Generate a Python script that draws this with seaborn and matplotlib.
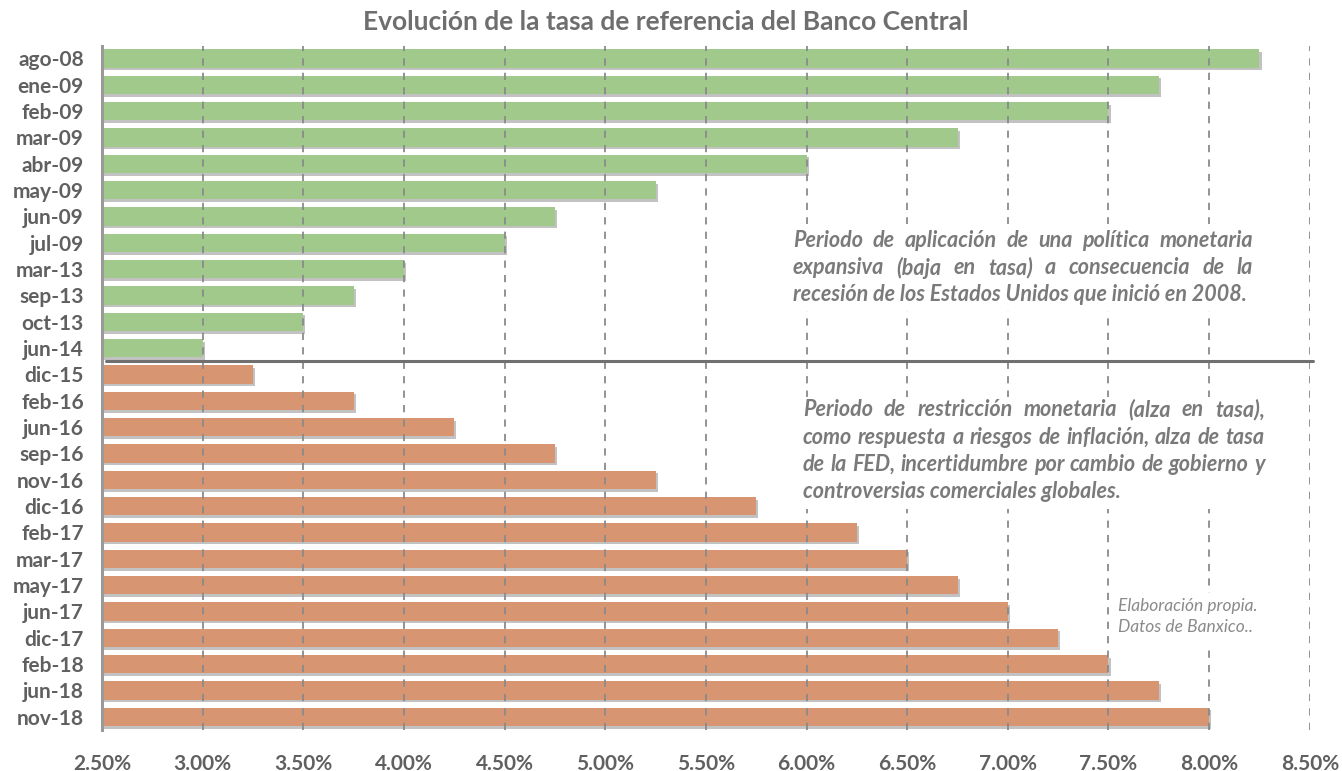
import pandas as pd
import numpy as np
import seaborn as sns
import matplotlib.pyplot as plt
import matplotlib.patheffects as pe
from matplotlib.patches import Rectangle
from matplotlib.ticker import FuncFormatter

fechas = ['ago-08', 'ene-09', 'feb-09', 'mar-09', 'abr-09', 'may-09', 'jun-09',
          'jul-09', 'mar-13', 'sep-13', 'oct-13', 'jun-14',
          'dic-15', 'feb-16', 'jun-16', 'sep-16', 'nov-16', 'dic-16', 'feb-17',
          'mar-17', 'may-17', 'jun-17', 'dic-17', 'feb-18', 'jun-18', 'nov-18']
tasas = [8.25, 7.75, 7.50, 6.75, 6.00, 5.25, 4.75, 4.50, 4.00, 3.75, 3.50, 3.00,
         3.25, 3.75, 4.25, 4.75, 5.25, 5.75, 6.25, 6.50, 6.75, 7.00, 7.25, 7.50, 7.75, 8.00]
periodos = ['expansiva'] * 12 + ['restriccion'] * 14

nota_expansiva = ['Periodo de aplicación de una política monetaria',
                  'expansiva (baja en tasa) a consecuencia de la',
                  'recesión de los Estados Unidos que inició en 2008.']
nota_restriccion = ['Periodo de restricción monetaria (alza en tasa),',
                    'como respuesta a riesgos de inflación, alza de tasa',
                    'de la FED, incertidumbre por cambio de gobierno y',
                    'controversias comerciales globales.']
fuente = 'Elaboración propia.\nDatos de Banxico..'

df = pd.DataFrame({'fecha': fechas, 'tasa': tasas, 'periodo': periodos})

sns.set_style('white')
plt.rcParams['font.family'] = ['Lato', 'DejaVu Sans']

gris = '#7a7a7a'
fig = plt.figure(figsize=(13.42, 7.71), dpi=100)
ax = fig.add_axes([0.076, 0.0532, 0.9, 0.887])

sns.barplot(data=df, x='tasa', y='fecha', hue='periodo', orient='h', dodge=False,
            palette={'expansiva': '#a2c98c', 'restriccion': '#d89572'}, saturation=1,
            width=0.7, linewidth=0, legend=False, ax=ax)

# sombra suave de las barras
for p in ax.patches:
    p.set_path_effects([pe.SimplePatchShadow(offset=(1.5, -2), shadow_rgbFace='#505050', alpha=0.35),
                        pe.Normal()])

ax.set_xlim(2.5, 8.5)
ax.set_ylim(25.5, -0.47)
ax.set_xticks(np.arange(2.5, 8.51, 0.5))
ax.xaxis.set_major_formatter(FuncFormatter(lambda v, pos: f'{v:.2f}%'))

for xv in np.arange(3.0, 8.51, 0.5):
    ax.axvline(xv, color='#8a8a8a', lw=1.3, ls=(0, (4, 4)), zorder=3)

ax.axhline(11.5, xmin=0.003, xmax=1.003, color='#707070', lw=2.2, zorder=4, clip_on=False)

for s in ['top', 'right', 'bottom']:
    ax.spines[s].set_visible(False)
ax.spines['left'].set_color('#9a9a9a')
ax.spines['left'].set_linewidth(2.2)

ax.tick_params(axis='y', length=0, labelsize=15, labelcolor='#606060', pad=13)
ax.tick_params(axis='x', length=0, labelsize=15, labelcolor='#606060', pad=17)
for lab in ax.get_xticklabels() + ax.get_yticklabels():
    lab.set_fontweight('bold')
ax.set_xlabel('')
ax.set_ylabel('')

fig.text(0.496, 0.971, 'Evolución de la tasa de referencia del Banco Central', ha='center',
         va='center', fontsize=19, fontweight='bold', color='#6e6e6e')

renderer = fig.canvas.get_renderer()
estilo = dict(fontsize=15.5, fontweight='bold', fontstyle='italic', color=gris, zorder=6)


def texto_justificado(lineas, x0, x1, y0, paso):
    px0 = ax.transData.transform((x0, 0))[0]
    px1 = ax.transData.transform((x1, 0))[0]
    inv = ax.transData.inverted()
    for i, linea in enumerate(lineas):
        y = y0 + i * paso
        if i == len(lineas) - 1:
            ax.text(x0, y, linea, ha='left', va='center', **estilo)
            continue
        palabras = linea.split()
        anchos = []
        for pal in palabras:
            t = ax.text(0, 0, pal, **estilo)
            anchos.append(t.get_window_extent(renderer).width)
            t.remove()
        hueco = (px1 - px0 - sum(anchos)) / (len(palabras) - 1)
        px = px0
        for pal, w in zip(palabras, anchos):
            ax.text(inv.transform((px, 0))[0], y, pal, ha='left', va='center', **estilo)
            px += w + hueco


# fondos blancos que tapan la cuadricula detras de las notas
ax.add_patch(Rectangle((5.88, 6.3), 2.42, 3.3, facecolor='white', edgecolor='none', zorder=3.5))
ax.add_patch(Rectangle((5.93, 12.85), 2.42, 4.25, facecolor='white', edgecolor='none', zorder=3.5))
ax.add_patch(Rectangle((7.51, 20.3), 0.77, 2.15, facecolor='white', edgecolor='none', zorder=3.5))

texto_justificado(nota_expansiva, 5.932, 8.217, 6.92, 1.03)
texto_justificado(nota_restriccion, 5.982, 8.277, 13.34, 1.04)

ax.text(7.547, 20.5, fuente, fontsize=12.5, fontstyle='italic', color='#8a8a8a',
        va='top', ha='left', linespacing=1.35, zorder=6)

fig.savefig('out.png', dpi=100)
